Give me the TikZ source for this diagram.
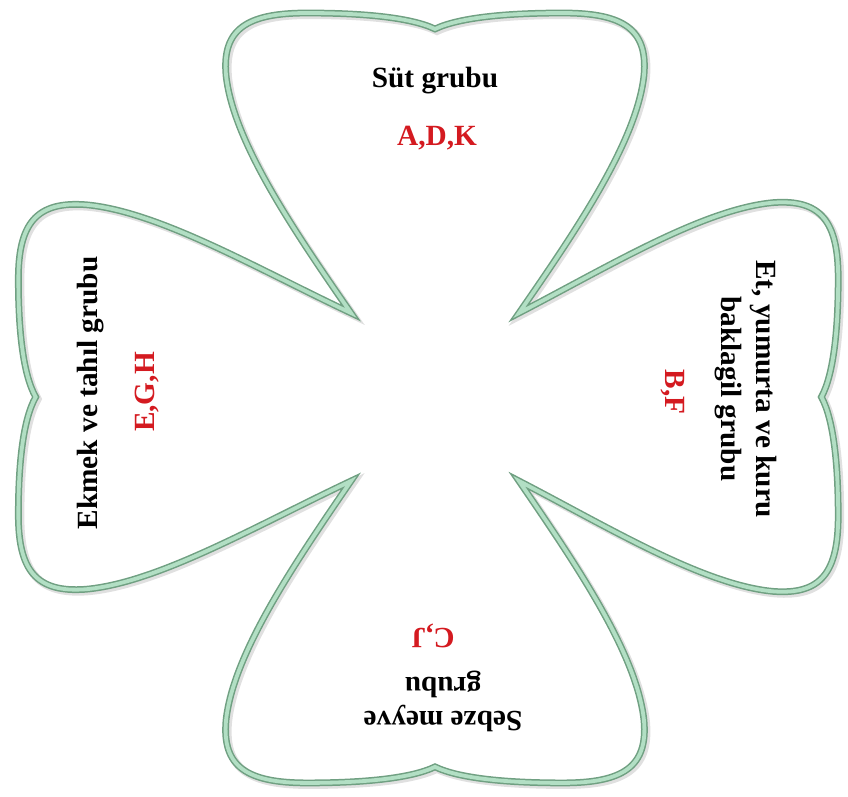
\documentclass[tikz,border=0pt]{standalone}
\usepackage{fontspec}
\setmainfont{Liberation Serif}
\definecolor{leafedge}{RGB}{112,160,130}
\definecolor{leafmint}{RGB}{178,223,196}
\definecolor{vitred}{RGB}{212,26,32}

% one leaf, from its left tip to its right tip; #1 width factor, #2 length factor, #3 end
\newcommand{\leafpath}[3]{%
  .. controls ({-140*#1},{165*#2}) and ({-202*#1},{255*#2}) .. ({-209*#1},{322*#2})
  .. controls ({-213*#1},{368*#2}) and ({-188*#1},{384*#2}) .. ({-128*#1},{384*#2})
  .. controls ({-75*#1},{384*#2}) and ({-25*#1},{380*#2}) .. (0,{368*#2})
  .. controls ({25*#1},{380*#2}) and ({75*#1},{384*#2}) .. ({128*#1},{384*#2})
  .. controls ({188*#1},{384*#2}) and ({213*#1},{368*#2}) .. ({209*#1},{322*#2})
  .. controls ({202*#1},{255*#2}) and ({140*#1},{165*#2}) .. #3}
\newcommand{\cloverpath}{(-84,84) \leafpath{1}{1}{(84,84)}
  {[rotate=-90] \leafpath{0.93}{1.05}{(84,84)}}
  {[rotate=180] \leafpath{1}{1.005}{(84,84)}}
  {[rotate=90] \leafpath{0.92}{1.085}{cycle}}}

\begin{document}
\begin{tikzpicture}[x=1pt, y=1pt,
    leafline/.style={draw=leafedge, double=leafmint, double distance=3.8pt, line width=1.5pt, line join=miter, miter limit=12},
    leafshadow/.style={draw=black!12, line width=8pt, line join=miter, miter limit=12},
    grouplabel/.style={font=\fontsize{29.3}{31}\selectfont\bfseries, align=center, inner sep=0pt},
    vitlabel/.style={grouplabel, text=vitred}
  ]
  \useasboundingbox (-435,-399) rectangle (413,397);

  % --- Clover outline ---
  \draw[leafshadow, xshift=2pt, yshift=-2pt] \cloverpath;
  \draw[leafline] \cloverpath;

  % --- Top leaf ---
  \node[grouplabel, anchor=base] (sut) at (0,309) {Süt grubu};
  \node[vitlabel, anchor=base] (sutvit) at (2,252) {A,D,K};

  % --- Left leaf ---
  \node[grouplabel, anchor=base, rotate=90] (ekmek) at (-337,4) {Ekmek ve tahıl grubu};
  \node[vitlabel, anchor=base, rotate=90] (ekmekvit) at (-280,5) {E,G,H};

  % --- Right leaf ---
  \node[grouplabel, rotate=-90] (et) at (311,8) {Et, yumurta ve kuru\\[4pt]baklagil grubu};
  \node[vitlabel, anchor=base, rotate=-90] (etvit) at (230,5) {B,F};

  % --- Bottom leaf ---
  \node[grouplabel, rotate=180] (sebze) at (8,-304) {Sebze meyve\\[3pt]grubu};
  \node[vitlabel, anchor=base, rotate=180] (sebzevit) at (-2,-231) {C,J};
\end{tikzpicture}
\end{document}
